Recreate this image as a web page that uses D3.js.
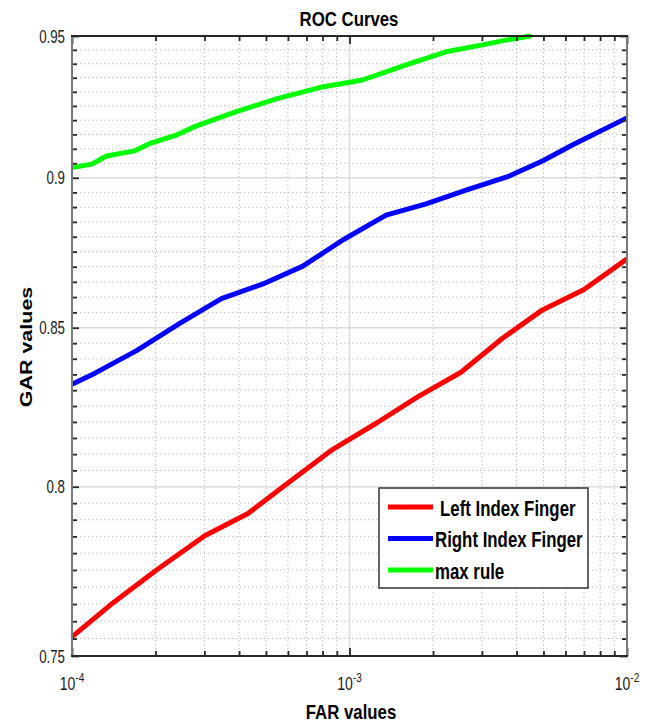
<!DOCTYPE html>
<html>
<head>
<meta charset="utf-8">
<script src="https://cdn.jsdelivr.net/npm/d3@7"></script>
<style>
  body { margin: 0; background: #fff; }
  svg { display: block; font-family: "Liberation Sans", Arial, sans-serif; }
</style>
</head>
<body>
<div id="chart"></div>
<script>
// values
const farLeft = [1e-4, 1.408e-4, 2.017e-4, 3.009e-4, 4.308e-4, 6.085e-4, 8.71e-4, 1.248e-3, 1.761e-3, 2.522e-3, 3.559e-3, 4.958e-3, 7.003e-3, 1e-2];
const garLeft = [0.7555, 0.7654, 0.7750, 0.7852, 0.7919, 0.8015, 0.8115, 0.8196, 0.8279, 0.8357, 0.8466, 0.8558, 0.8625, 0.8726];

const farRight = [1e-4, 1.21e-4, 1.709e-4, 2.445e-4, 3.455e-4, 4.876e-4, 6.792e-4, 9.46e-4, 1.355e-3, 1.888e-3, 2.63e-3, 3.763e-3, 4.958e-3, 6.356e-3, 1e-2];
const garRight = [0.8319, 0.8354, 0.8426, 0.8514, 0.8595, 0.8643, 0.8702, 0.8789, 0.8873, 0.8911, 0.8958, 0.9006, 0.9058, 0.9113, 0.9208];

const farMax = [1e-4, 1.178e-4, 1.333e-4, 1.685e-4, 1.935e-4, 2.379e-4, 2.81e-4, 3.913e-4, 5.448e-4, 7.8e-4, 1.114e-3, 1.6e-3, 2.228e-3, 3.016e-3, 3.662e-3, 4.515e-3];
const garMax = [0.9035, 0.9047, 0.9075, 0.9093, 0.9121, 0.9148, 0.9180, 0.9230, 0.9275, 0.9315, 0.9342, 0.9396, 0.9443, 0.9468, 0.9485, 0.95];

const seriesNames = ["Left Index Finger", "Right Index Finger", "max rule"];
const seriesColors = ["#ff0000", "#0000ff", "#00ff00"];

const yMajor = [0.75, 0.8, 0.85, 0.9, 0.95];
const yLabels = ["0.75", "0.8", "0.85", "0.9", "0.95"];
const xMajor = [1e-4, 1e-3, 1e-2];
const xExp = ["-4", "-3", "-2"];

const W = 654, H = 722,
    pL = 72, pR = 627, pT = 36, pB = 656,
    sx = 0.8; // the picture is horizontally squeezed

const svg = d3.select("#chart").append("svg")
    .attr("width", W)
    .attr("height", H);

const x = d3.scaleLog().domain([1e-4, 1e-2]).range([pL, pR]);
const y = d3.scaleLog().domain([0.75, 0.95]).range([pB, pT]);

// minor tick positions
const yMinor = d3.range(150, 191).map(i => i / 200).filter(v => !yMajor.some(m => Math.abs(m - v) < 1e-9));
const xMinor = [];
[-4, -3].forEach(e => { for (let k = 2; k <= 9; k++) xMinor.push(k * Math.pow(10, e)); });

// GRID
const grid = svg.append("g");
grid.selectAll(".ymin").data(yMinor).enter().append("line")
    .attr("x1", pL).attr("x2", pR)
    .attr("y1", d => y(d)).attr("y2", d => y(d))
    .attr("stroke", "#b8b8b8").attr("stroke-width", 1).attr("stroke-dasharray", "1.3,2.7");
grid.selectAll(".xmin").data(xMinor).enter().append("line")
    .attr("y1", pT).attr("y2", pB)
    .attr("x1", d => x(d)).attr("x2", d => x(d))
    .attr("stroke", "#b8b8b8").attr("stroke-width", 1).attr("stroke-dasharray", "1.3,2.7");
grid.selectAll(".ymaj").data(yMajor.slice(1, 4)).enter().append("line")
    .attr("x1", pL).attr("x2", pR)
    .attr("y1", d => y(d)).attr("y2", d => y(d))
    .attr("stroke", "#dcdcdc").attr("stroke-width", 1.6);
grid.selectAll(".xmaj").data([1e-3]).enter().append("line")
    .attr("y1", pT).attr("y2", pB)
    .attr("x1", d => x(d)).attr("x2", d => x(d))
    .attr("stroke", "#dcdcdc").attr("stroke-width", 1.6);

// CURVES
const series = [
    farLeft.map((f, i) => [f, garLeft[i]]),
    farRight.map((f, i) => [f, garRight[i]]),
    farMax.map((f, i) => [f, garMax[i]])
];
const line = d3.line().x(d => x(d[0])).y(d => y(d[1]));
svg.append("g").selectAll("path").data(series).enter().append("path")
    .attr("d", line)
    .attr("fill", "none")
    .attr("stroke", (d, i) => seriesColors[i])
    .attr("stroke-width", 5)
    .attr("stroke-linejoin", "round");

// AXES (ticks inward on all four sides)
function ticks(axis, vals, size) {
    return axis.tickValues(vals).tickSize(size).tickFormat("");
}
const axes = svg.append("g");
axes.append("g").attr("transform", `translate(0,${pB})`).call(ticks(d3.axisBottom(x), xMinor, -5));
axes.append("g").attr("transform", `translate(0,${pB})`).call(ticks(d3.axisBottom(x), xMajor, -8));
axes.append("g").attr("transform", `translate(0,${pT})`).call(ticks(d3.axisTop(x), xMinor, -5));
axes.append("g").attr("transform", `translate(0,${pT})`).call(ticks(d3.axisTop(x), xMajor, -8));
axes.append("g").attr("transform", `translate(${pL},0)`).call(ticks(d3.axisLeft(y), yMinor, -5));
axes.append("g").attr("transform", `translate(${pL},0)`).call(ticks(d3.axisLeft(y), yMajor, -7));
axes.append("g").attr("transform", `translate(${pR},0)`).call(ticks(d3.axisRight(y), yMinor, -5));
axes.append("g").attr("transform", `translate(${pR},0)`).call(ticks(d3.axisRight(y), yMajor, -7));
axes.selectAll(".domain").remove();
axes.selectAll(".tick line").attr("stroke", "#262626").attr("stroke-width", 1.8);

// box
axes.append("line").attr("x1", pL).attr("x2", pL).attr("y1", pT).attr("y2", pB)
    .attr("stroke", "#7a7a7a").attr("stroke-width", 2);
axes.append("line").attr("x1", pR).attr("x2", pR).attr("y1", pT).attr("y2", pB)
    .attr("stroke", "#7a7a7a").attr("stroke-width", 2);
axes.append("line").attr("x1", pL - 1).attr("x2", pR + 1).attr("y1", pT).attr("y2", pT)
    .attr("stroke", "#262626").attr("stroke-width", 2.2);
axes.append("line").attr("x1", pL - 1).attr("x2", pR + 1).attr("y1", pB).attr("y2", pB)
    .attr("stroke", "#262626").attr("stroke-width", 2.2);

// TEXT
function label(px, py, txt, size, weight, anchor, rot, k) {
    k = k || sx;
    const t = svg.append("text")
        .attr("transform", rot ? `translate(${px},${py}) rotate(-90) scale(1,${k})`
                               : `translate(${px},${py}) scale(${k},1)`)
        .attr("text-anchor", anchor)
        .attr("font-size", size)
        .attr("font-weight", weight)
        .attr("fill", "#1a1a1a")
        .text(txt);
    return t;
}

yMajor.forEach((v, i) => label(pL - 7, y(v) + 6.5, yLabels[i], 17.5, "normal", "end", false, 0.76));

xMajor.forEach((v, i) => {
    const t = label(x(v), 690, "", 18, "normal", "middle", false, 0.78);
    t.append("tspan").text("10");
    t.append("tspan").attr("dy", -8).attr("font-size", 13).text(xExp[i]);
});

label(349, 26, "ROC Curves", 21, "bold", "middle").attr("fill", "#000");
label(351, 719, "FAR values", 21, "bold", "middle").attr("fill", "#000");
label(32, 347, "GAR values", 21.5, "bold", "middle", true).attr("fill", "#000");

// LEGEND
const lg = svg.append("g");
lg.append("rect")
    .attr("x", 379).attr("y", 488).attr("width", 209).attr("height", 100)
    .attr("fill", "#fff").attr("stroke", "#333").attr("stroke-width", 1.5);
seriesNames.forEach((name, i) => {
    const ly = 507 + i * 31.5;
    lg.append("line")
        .attr("x1", 388).attr("x2", 433).attr("y1", ly).attr("y2", ly)
        .attr("stroke", seriesColors[i]).attr("stroke-width", 5);
    label(i === 0 ? 440 : 435, ly + 8.5, name, 22, "bold", "start", false, 0.765).attr("fill", "#000");
});
</script>
</body>
</html>
